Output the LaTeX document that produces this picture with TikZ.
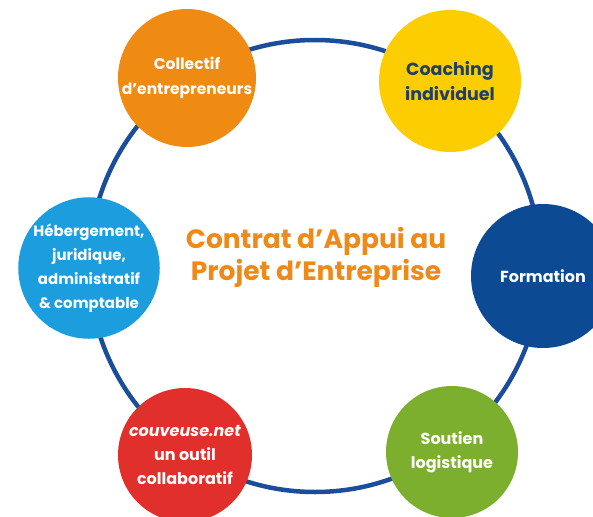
\documentclass[tikz,border=0pt]{standalone}
\usepackage{fontspec}
\setmainfont{Poppins}
\definecolor{corange}{HTML}{EF8A12}
\definecolor{cyellow}{HTML}{FCCD00}
\definecolor{clblue}{HTML}{1C9EDE}
\definecolor{cdblue}{HTML}{0C4B94}
\definecolor{cred}{HTML}{E1302C}
\definecolor{cgreen}{HTML}{7CAF2E}
\definecolor{cring}{HTML}{1A4E9B}
\definecolor{cnavy}{HTML}{1F3F66}
\definecolor{ctitle}{HTML}{EE8A1A}
\begin{document}
\begin{tikzpicture}[x=1pt,y=-1pt,
  ring/.style={draw=cring,line width=4.5pt},
  bub/.style={circle,inner sep=0pt,minimum size=138pt,align=center,text=white,
    font=\bfseries\fontsize{16}{24}\selectfont}]
\useasboundingbox (0,0) rectangle (593,516);
\coordinate (c) at (315,266);
\draw[ring] (c) circle[radius=226];
\node[bub,fill=corange,font=\bfseries\fontsize{15.5}{25}\selectfont] (coll) at (187,78) {Collectif\\d’entrepreneurs};
\node[bub,fill=cyellow,text=cnavy,minimum size=142pt,font=\bfseries\fontsize{17.5}{25}\selectfont] (coach) at (450,81) {Coaching\\individuel};
\node[bub,fill=clblue,font=\bfseries\fontsize{15}{24}\selectfont] (heb) at (89,268) {Hébergement,\\juridique,\\administratif\\\&~comptable};
\node[bub,fill=cdblue,minimum size=144pt] (form) at (543,276) {Formation};
\node[bub,fill=cred,minimum size=134pt] (couv) at (185,455) {\textit{couveuse.net}\\un outil\\collaboratif};
\node[bub,fill=cgreen,minimum size=132pt] (sout) at (452,452) {Soutien\\logistique};
\node[align=center,text=ctitle,font=\bfseries\fontsize{26.5}{32}\selectfont] (title) at (316,257) {Contrat d’Appui au\\Projet d’Entreprise};
\end{tikzpicture}
\end{document}
